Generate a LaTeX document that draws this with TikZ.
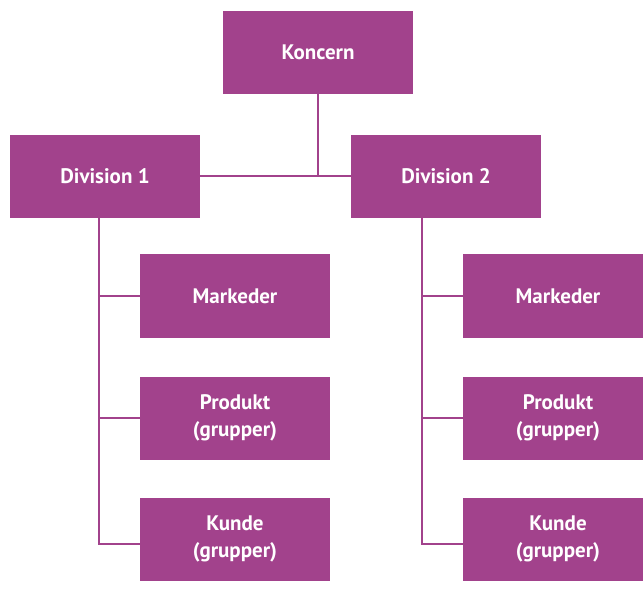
\documentclass[tikz,border=0pt]{standalone}
\usepackage{fontspec}
\setmainfont{PT Sans}
\usetikzlibrary{calc}
\definecolor{orgpurple}{RGB}{162,66,140}
\begin{document}
\begin{tikzpicture}[x=1pt,y=-1pt,
  orgbox/.style={rectangle, fill=orgpurple, minimum width=190pt, minimum height=83pt,
    inner sep=0pt, text=white, font=\fontsize{21}{27}\selectfont\bfseries, align=center},
  link/.style={draw=orgpurple, line width=2pt}]
\useasboundingbox (0,0) rectangle (643,596);
\node[orgbox] (kon) at (318,52.5) {Koncern};
\node[orgbox] (d1) at (105,176.5) {Division 1};
\node[orgbox] (d2) at (446,176.5) {Division 2};
\node[orgbox] (m1) at (235,296) {Markeder};
\node[orgbox] (p1) at (235,418) {Produkt\\(grupper)};
\node[orgbox] (k1) at (235,539) {Kunde\\(grupper)};
\node[orgbox] (m2) at (558,296) {Markeder};
\node[orgbox] (p2) at (558,418) {Produkt\\(grupper)};
\node[orgbox] (k2) at (558,539) {Kunde\\(grupper)};
\coordinate (v1top) at ($(d1.south)+(-6,0)$);
\coordinate (v2top) at ($(d2.south)+(-24,0)$);
\coordinate (k1b) at ($(k1.west)+(0,5)$);
\coordinate (k2b) at ($(k2.west)+(0,5)$);
\draw[link] (kon.south) -- (kon.south |- d1.east);
\draw[link] (d1.east) -- (d2.west);
\draw[link] (v1top) |- (k1b);
\draw[link] (v1top |- m1.west) -- (m1.west);
\draw[link] (v1top |- p1.west) -- (p1.west);
\draw[link] (v2top) |- (k2b);
\draw[link] (v2top |- m2.west) -- (m2.west);
\draw[link] (v2top |- p2.west) -- (p2.west);
\end{tikzpicture}
\end{document}
